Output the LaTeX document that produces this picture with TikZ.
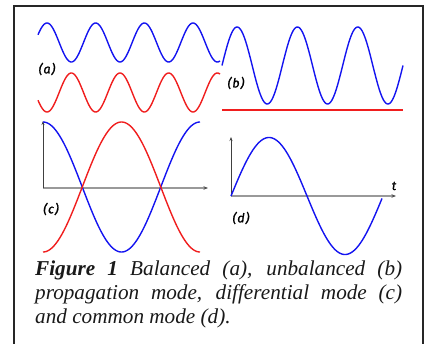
\documentclass[tikz,border=0pt]{standalone}
\usepackage{fontspec}
\setmainfont{Liberation Serif}
\newfontfamily\lblfont{Fira Sans}[ItalicFeatures={FakeBold=1.3}]
\usetikzlibrary{arrows.meta}
\definecolor{wblue}{RGB}{20,20,240}
\definecolor{wred}{RGB}{240,30,30}
\newcommand{\plab}[1]{(\kern0.8pt#1\kern0.8pt)}
\tikzset{
  wave/.style={line width=1.4pt, samples=200, smooth},
  bluewave/.style={wave, wblue},
  redwave/.style={wave, wred},
  vaxis/.style={black!75, line width=0.7pt, -{Stealth[length=4pt,width=3pt]}},
  haxis/.style={black!40, line width=1.3pt, -{Stealth[length=4.5pt,width=3.5pt,black!70]}},
  lbl/.style={font=\lblfont\itshape\fontsize{12.5}{13}\selectfont, inner sep=0pt, text=black},
  capline/.style={anchor=base west, inner sep=0pt, font=\fontsize{21.2}{24}\selectfont\itshape, text=black!90},
  frame/.style={black!85, line width=2pt}
}
\begin{document}
\begin{tikzpicture}[x=1pt,y=-1pt]
\useasboundingbox (0,0) rectangle (428,343);
% frame (open at bottom)
\draw[frame] (14,350) -- (14,6) -- (423,6) -- (423,350);

% (a) balanced
\draw[bluewave] plot[domain=38:220] (\x,{42.5-19.5*cos((\x-47)*7.3968)});
\draw[redwave]  plot[domain=38:220] (\x,{92.5+19.5*cos((\x-47)*7.3968)});
\node[lbl] (la) at (47,69) {\plab{a}};

% (b) unbalanced
\draw[bluewave] plot[domain=222:403] (\x,{65.5-38.5*sin((\x-222)*5.967)});
\coordinate (rb1) at (222,110);
\coordinate (rb2) at (403,110);
\draw[wred, line width=1.5pt] (rb1) -- (rb2);
\node[lbl] (lb) at (236,83) {\plab{b}};

% (c) differential mode
\coordinate (oc) at (43,188);
\coordinate (yc) at (43,121);
\coordinate (xc) at (208,188);
\draw[haxis] (oc) -- (xc);
\draw[vaxis] (oc) -- (yc);
\draw[bluewave] plot[domain=43:200] (\x,{187-65*cos((\x-43)*2.293)});
\draw[redwave]  plot[domain=43:200] (\x,{187+65*cos((\x-43)*2.293)});
\node[lbl] (lc) at (51,209) {\plab{c}};

% (d) common mode
\coordinate (od) at (231,196);
\coordinate (yd) at (231,137);
\coordinate (xd) at (396,196);
\draw[haxis] (od) -- (xd);
\draw[vaxis] (od) -- (yd);
\draw[bluewave] plot[domain=231:382] (\x,{196-58.5*sin((\x-231)*2.368)});
\node[lbl] (ld) at (241,218) {\plab{d}};
\node[lbl] (lt) at (394,186) {t};

% caption
\node[capline] (cap1) at (35,275.5) {\makebox[367pt][s]{\textbf{Figure 1} Balanced (a), unbalanced (b)}};
\node[capline] (cap2) at (35,299.5) {\makebox[367pt][s]{propagation mode, differential mode (c)}};
\node[capline] (cap3) at (35,323.5) {and common mode (d).};
\end{tikzpicture}
\end{document}
